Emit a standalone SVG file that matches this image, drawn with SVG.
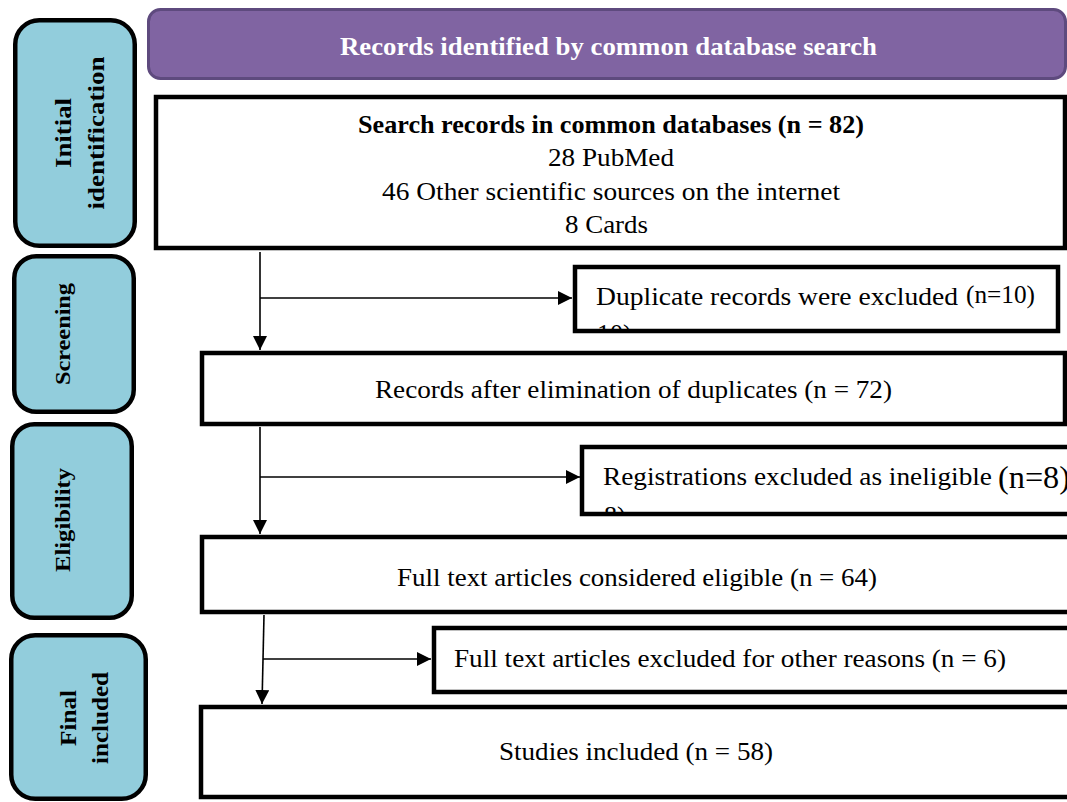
<svg xmlns="http://www.w3.org/2000/svg" width="1067" height="802" viewBox="0 0 1067 802">
<style>
.side{fill:#92CDDC;stroke:#000;stroke-width:4.5}
.box{fill:#fff;stroke:#000;stroke-width:4.5}
.t{font-family:"Liberation Serif",serif;font-size:26px;fill:#000}
.b{font-weight:bold;font-size:25px}
.sl{font-family:"Liberation Serif",serif;font-weight:bold;fill:#000;text-anchor:middle}
.c{stroke:#000;stroke-width:1.6;fill:none}
</style>
<defs>
<marker id="ah" markerUnits="userSpaceOnUse" markerWidth="15" markerHeight="14" refX="14" refY="7" orient="auto">
<path d="M0,0 L14,7 L0,14 Z" fill="#000"/>
</marker>
<clipPath id="cDup"><rect x="577" y="269" width="479" height="61"/></clipPath>
<clipPath id="cReg"><rect x="584" y="449" width="486" height="64"/></clipPath>
</defs>

<g id="header">
<rect x="148.5" y="9.5" width="917" height="69" rx="12" fill="#8064A2" stroke="#5E4A7E" stroke-width="3"/>
<text class="t b" x="340" y="55" textLength="537" lengthAdjust="spacingAndGlyphs" style="fill:#fff">Records identified by common database search</text>
</g>

<g id="stage-identification">
<rect class="side" x="15.25" y="20.25" width="119.5" height="225.5" rx="24"/>
<text class="sl" transform="translate(71,133) rotate(-90)" font-size="24" textLength="70" lengthAdjust="spacingAndGlyphs">Initial</text>
<text class="sl" transform="translate(104,133) rotate(-90)" font-size="24" textLength="153" lengthAdjust="spacingAndGlyphs">identification</text>
</g>
<g id="stage-screening">
<rect class="side" x="14.25" y="256.25" width="119.5" height="155.5" rx="22"/>
<text class="sl" transform="translate(70,334) rotate(-90)" font-size="21" textLength="102" lengthAdjust="spacingAndGlyphs">Screening</text>
</g>
<g id="stage-eligibility">
<rect class="side" x="12.25" y="424.25" width="119.5" height="193.5" rx="22"/>
<text class="sl" transform="translate(70,520) rotate(-90)" font-size="21" textLength="104" lengthAdjust="spacingAndGlyphs">Eligibility</text>
</g>
<g id="stage-included">
<rect class="side" x="11.25" y="635.25" width="134.5" height="163.5" rx="24"/>
<text class="sl" transform="translate(76,718) rotate(-90)" font-size="24" textLength="56" lengthAdjust="spacingAndGlyphs">Final</text>
<text class="sl" transform="translate(108,718) rotate(-90)" font-size="24" textLength="92" lengthAdjust="spacingAndGlyphs">included</text>
</g>

<g id="connectors">
<line class="c" x1="260" y1="252" x2="260" y2="350" marker-end="url(#ah)"/>
<line class="c" x1="260" y1="298" x2="572" y2="298" marker-end="url(#ah)"/>
<line class="c" x1="260" y1="427" x2="260" y2="534" marker-end="url(#ah)"/>
<line class="c" x1="260" y1="477" x2="580" y2="477" marker-end="url(#ah)"/>
<line class="c" x1="264" y1="615" x2="262" y2="704" marker-end="url(#ah)"/>
<line class="c" x1="263" y1="659" x2="431" y2="659" marker-end="url(#ah)"/>
</g>

<g id="search-records">
<rect class="box" x="156" y="97" width="909" height="151"/>
<text class="t b" x="358" y="133" textLength="506" lengthAdjust="spacingAndGlyphs">Search records in common databases (n = 82)</text>
<text class="t" x="548" y="166" textLength="126" lengthAdjust="spacingAndGlyphs">28 PubMed</text>
<text class="t" x="382" y="200" textLength="458" lengthAdjust="spacingAndGlyphs">46 Other scientific sources on the internet</text>
<text class="t" x="565" y="233" textLength="83" lengthAdjust="spacingAndGlyphs">8 Cards</text>
</g>

<g id="duplicates-excluded">
<rect class="box" x="575" y="267" width="483" height="64"/>
<text class="t" x="596" y="305" textLength="362" lengthAdjust="spacingAndGlyphs">Duplicate records were excluded</text>
<text class="t" x="966" y="303" textLength="69" lengthAdjust="spacingAndGlyphs">(n=10)</text>
<text class="t" x="597" y="342" clip-path="url(#cDup)">10)</text>
</g>

<g id="after-duplicates">
<rect class="box" x="202" y="353" width="863" height="71"/>
<text class="t" x="375" y="398" textLength="517" lengthAdjust="spacingAndGlyphs">Records after elimination of duplicates (n = 72)</text>
</g>

<g id="ineligible-excluded">
<rect class="box" x="582" y="447" width="490" height="67"/>
<text class="t" x="603" y="485" textLength="389" lengthAdjust="spacingAndGlyphs">Registrations excluded as ineligible</text>
<text class="t" x="998" y="488" style="font-size:31px" textLength="72" lengthAdjust="spacingAndGlyphs">(n=8)</text>
<text class="t" x="604" y="524" clip-path="url(#cReg)">8)</text>
</g>

<g id="eligible">
<rect class="box" x="202" y="537" width="870" height="75"/>
<text class="t" x="397" y="586" textLength="480" lengthAdjust="spacingAndGlyphs">Full text articles considered eligible (n = 64)</text>
</g>

<g id="other-excluded">
<rect class="box" x="434" y="628" width="640" height="64"/>
<text class="t" x="454" y="667" textLength="552" lengthAdjust="spacingAndGlyphs">Full text articles excluded for other reasons (n = 6)</text>
</g>

<g id="included">
<rect class="box" x="201" y="707" width="870" height="90"/>
<text class="t" x="499" y="760" textLength="274" lengthAdjust="spacingAndGlyphs">Studies included (n = 58)</text>
</g>
</svg>
